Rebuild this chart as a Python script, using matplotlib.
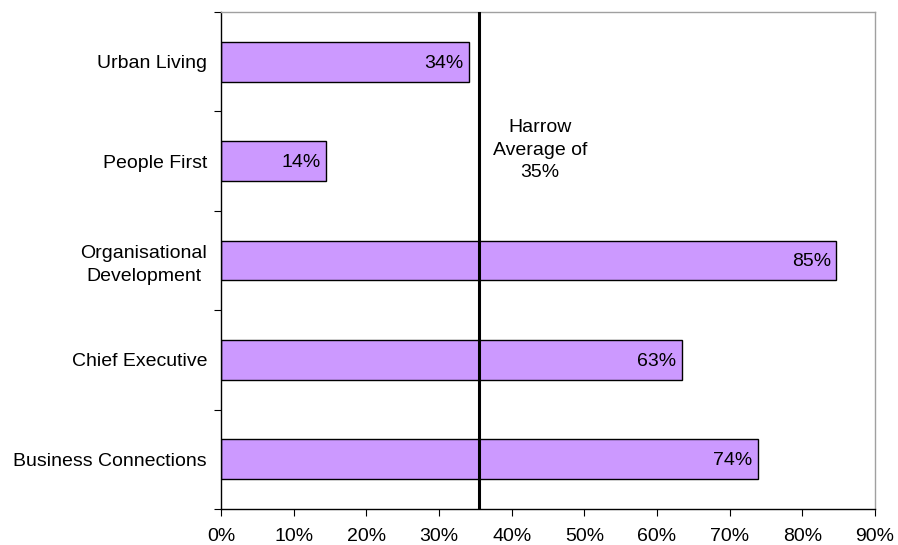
import matplotlib
matplotlib.use("Agg")
import matplotlib.pyplot as plt
import numpy as np

categories = ["Business Connections", "Chief Executive", "Organisational\nDevelopment", "People First", "Urban Living"]
values = [73.9, 63.4, 84.7, 14.5, 34.1]
value_labels = ["74%", "63%", "85%", "14%", "34%"]
average = 35.5
avg_text = "Harrow\nAverage of\n35%"
xticks = [0, 10, 20, 30, 40, 50, 60, 70, 80, 90]
xtick_labels = [f"{v}%" for v in xticks]

plt.rcParams['font.family'] = ['Liberation Sans', 'DejaVu Sans']
fs = 14

fig = plt.figure(figsize=(8.98, 5.45), dpi=100)
ax = fig.add_axes([221/898, (545-509)/545, (875-221)/898, (509-12)/545])

y = np.arange(len(categories))
ax.barh(y, values, height=0.4, color="#CC99FF", edgecolor="black", linewidth=1, zorder=2)
for yi, v, lab in zip(y, values, value_labels):
    ax.annotate(lab, xy=(v, yi), xytext=(-4, -1), textcoords="offset points",
                ha="right", va="center", fontsize=fs, zorder=4)

ax.axvline(average, color="black", linewidth=2.2, zorder=3)
ax.text(43.9, 3.11, avg_text, ha="center", va="center", fontsize=fs, linespacing=1.42)

ax.set_xlim(0, 90)
ax.set_ylim(-0.5, len(categories) - 0.5)
ax.set_xticks(xticks)
ax.set_xticklabels(xtick_labels, fontsize=fs)
ax.set_yticks(y)
ax.set_yticklabels(categories, fontsize=fs, multialignment="center", linespacing=1.42)
ax.set_yticks(np.arange(-0.5, len(categories)), minor=True)
ax.tick_params(axis="y", which="major", length=0, pad=10)
ax.tick_params(axis="y", which="minor", length=5, direction="out", color="black", width=0.8)
ax.tick_params(axis="x", which="major", length=5, direction="out", width=0.8, pad=9)

for s in ["left", "bottom"]:
    ax.spines[s].set_color("black")
    ax.spines[s].set_linewidth(1)
for s in ["top", "right"]:
    ax.spines[s].set_color("#A0A0A0")
    ax.spines[s].set_linewidth(1)

fig.savefig("out.png", dpi=100)
